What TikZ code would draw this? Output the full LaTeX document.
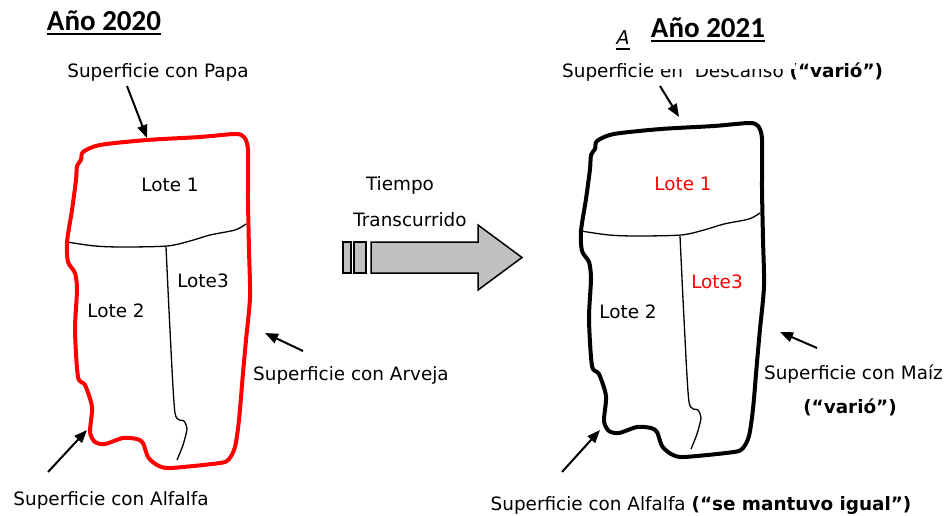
\documentclass[tikz,border=0pt]{standalone}
\usepackage{fontspec}
\setmainfont{DejaVu Sans}
\newfontfamily\titlefont{Carlito}
\usetikzlibrary{arrows.meta}
\definecolor{arrowgray}{RGB}{192,192,192}
\tikzset{
  lbl/.style={inner sep=0pt, font=\fontsize{18.4}{21}\selectfont},
  boldlbl/.style={inner sep=0pt, font=\fontsize{18.4}{21}\selectfont\bfseries},
  title/.style={inner sep=0pt, font=\fontsize{29}{32}\selectfont\titlefont\bfseries},
  ptr/.style={line width=2pt, -{Triangle[length=13pt,width=10pt]}},
  uline/.style={line width=2.5pt},
  outlineL/.style={line width=4pt, red, line join=round},
  outlineR/.style={line width=4pt, black, line join=round},
  inner/.style={line width=1.3pt},
}
\begin{document}
\begin{tikzpicture}[x=1pt,y=-1pt]
\useasboundingbox (0,0) rectangle (945,516);

% ---------- field shapes ----------
\newcommand{\fieldoutline}{plot[smooth cycle, tension=0.45] coordinates {
  (83,152) (100,145) (147,140) (200,137) (235,134) (244,137) (248,150)
  (248,200) (249,250) (250,297) (246,340) (243,373) (239,420) (235,447)
  (229,459) (220,463) (170,468) (157,465) (148,457) (143,443) (137,439)
  (123,438) (105,444) (95,442) (90,432) (92,407) (85,385) (78,377) (75,330)
  (77,290) (75,273) (68,262) (67,242) (72,210) (76,180) (77,166) (81,160)}}
\newcommand{\fielddivider}{plot[smooth, tension=0.5] coordinates {
  (67,242) (95,246) (123,247) (167,246) (190,241) (210,235) (235,230) (246,224)}}
\newcommand{\fieldvertical}{plot[smooth, tension=0.4] coordinates {
  (166,247) (170,330) (175,413) (184,421) (187,429) (183,445) (177,460)}}

\draw[inner] \fielddivider;
\draw[inner] \fieldvertical;
\draw[outlineL] \fieldoutline;

\begin{scope}[shift={(514,-11)}]
\draw[inner] \fielddivider;
\draw[inner] \fieldvertical;
\draw[outlineR] \fieldoutline;
\end{scope}

% ---------- titles ----------
\node[title, anchor=base] (t2020) at (104,31) {Año 2020};
\draw[uline] ([yshift=-3pt]t2020.base west) -- ([yshift=-3pt]t2020.base east);
\node[title, anchor=base] (t2021) at (708,38) {Año 2021};
\draw[uline] ([yshift=-3pt]t2021.base west) -- ([yshift=-3pt]t2021.base east);
\node[lbl, anchor=base, font=\fontsize{19}{21}\selectfont\itshape] (tA) at (623,45) {A};
\draw[line width=1.8pt] ([yshift=-4pt]tA.base west) -- ([yshift=-4pt]tA.base east);

% ---------- lot labels ----------
\node[lbl] (l1L) at (170,185) {Lote 1};
\node[lbl] (l2L) at (116,311) {Lote 2};
\node[lbl] (l3L) at (203,281) {Lote3};
\node[lbl, text=red] (l1R) at (683,184) {Lote 1};
\node[lbl] (l2R) at (628,312) {Lote 2};
\node[lbl, text=red] (l3R) at (717,282) {Lote3};

% ---------- annotations left ----------
\node[lbl] (papa) at (158,72) {Superficie con Papa};
\coordinate (papaT) at (147,138);
\draw[ptr] (127,86) -- (papaT);

\node[lbl, anchor=west] (arveja) at (253,375) {Superficie con Arveja};
\coordinate (arvejaT) at (265,333);
\draw[ptr] (303,351) -- (arvejaT);

\node[lbl] (alfL) at (111,500) {Superficie con Alfalfa};
\coordinate (alfLT) at (87,430);
\draw[ptr] (48,472) -- (alfLT);

% ---------- annotations right ----------
\node[lbl, anchor=base west] (desc) at (562,78) {Superficie en\ \ Descanso \textbf{(“varió”)}};
\fill[white] (650,52) rectangle (795,69);
\coordinate (descT) at (679,117);
\draw[ptr] (660,86) -- (descT);

\node[lbl, anchor=east] (maiz) at (943,374) {Superficie con Maíz};
\node[boldlbl] (maizB) at (850,407) {(“varió”)};
\coordinate (maizT) at (780,332);
\draw[ptr] (817,348) -- (maizT);

\node[lbl] (alfR) at (701,505) {Superficie con Alfalfa \textbf{(“se mantuvo igual”)}};
\coordinate (alfRT) at (600,430);
\draw[ptr] (562,472) -- (alfRT);

% ---------- time arrow ----------
\node[lbl] (tiempo) at (400,185) {Tiempo};
\node[lbl] (transc) at (410,220) {Transcurrido};
\draw[line width=1.5pt, fill=arrowgray] (343,242) rectangle (351,273);
\draw[line width=1.5pt, fill=arrowgray] (354,242) rectangle (366,273);
\draw[line width=1.5pt, fill=arrowgray, line join=miter]
  (371,242) -- (478,242) -- (478,225) -- (522,257.5) -- (478,290) -- (478,273) -- (371,273) -- cycle;
\end{tikzpicture}
\end{document}
